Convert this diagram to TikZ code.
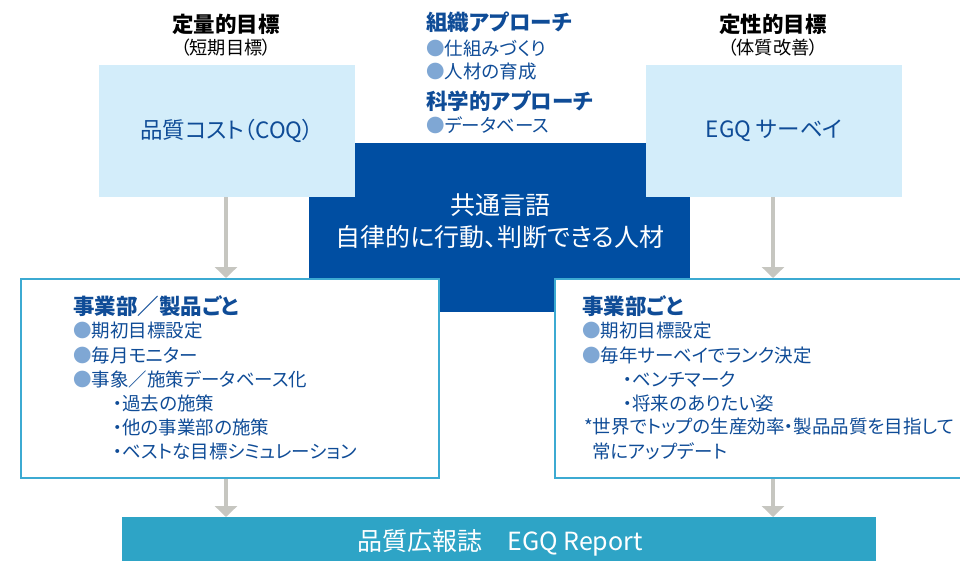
\documentclass[tikz,border=0pt]{standalone}
\usepackage{fontspec}
\setmainfont{Noto Sans CJK JP}[RawFeature=+palt]
\usetikzlibrary{arrows.meta}
\definecolor{txtblue}{HTML}{0F4C97}
\definecolor{darkblue}{HTML}{004EA2}
\definecolor{lightbox}{HTML}{D3EDFA}
\definecolor{bordercol}{HTML}{3CAAD2}
\definecolor{barcol}{HTML}{2EA4C6}
\definecolor{arrowgray}{HTML}{C6C6C0}
\definecolor{bulletcol}{HTML}{7FA7D4}
\newcommand{\bul}{{\color{bulletcol}●}}
\tikzset{
  lightrect/.style={fill=lightbox, draw=none, anchor=north west, inner sep=0pt, text=txtblue, font=\fontsize{22.5}{26}\selectfont},
  whiterect/.style={fill=white, draw=bordercol, line width=2pt, anchor=north west, inner sep=0pt},
  toptitle/.style={font=\fontsize{21.5}{25}\selectfont\bfseries, text=black, inner sep=0pt},
  topsub/.style={font=\fontsize{18.2}{21}\selectfont, text=black, inner sep=0pt},
  head/.style={font=\fontsize{21.5}{25}\selectfont\bfseries, text=txtblue, anchor=west, inner sep=0pt},
  item/.style={font=\fontsize{18.5}{21}\selectfont, text=txtblue, anchor=west, inner sep=0pt},
  white24/.style={font=\fontsize{25}{29}\selectfont, text=white, inner sep=0pt},
  flow/.style={draw=arrowgray, line width=4pt, -{Triangle[width=22pt,length=11pt]}}
}
\begin{document}
\begin{tikzpicture}[x=1pt,y=-1pt]
\useasboundingbox (0,0) rectangle (960,560);
\clip (0,0) rectangle (960,560);
% core dark box
\node[fill=darkblue, anchor=north west, minimum width=381pt, minimum height=169pt, inner sep=0pt] (core) at (309,143) {};
% light boxes
\node[lightrect, minimum width=256pt, minimum height=132pt] (coq) at (99,65) {品質コスト（COQ）};
\node[lightrect, minimum width=256pt, minimum height=132pt] (egq) at (646,65) {EGQ サーベイ};
% core text
\node[white24] (core1) at (500,205) {共通言語};
\node[white24] (core2) at (500,237) {自律的に行動、判断できる人材};
% top titles
\node[toptitle] (t1) at (226,24) {定量的目標};
\node[topsub] (t1s) at (226,48) {（短期目標）};
\node[toptitle] (t2) at (773,24) {定性的目標};
\node[topsub] (t2s) at (773,48) {（体質改善）};
% middle approach text
\node[head] (m1) at (426,22) {組織アプローチ};
\node[item] (m2) at (426,48) {\bul 仕組みづくり};
\node[item] (m3) at (426,72) {\bul 人材の育成};
\node[head] (m4) at (426,101) {科学的アプローチ};
\node[item] (m5) at (426,125) {\bul データベース};
% lower boxes
\node[whiterect, minimum width=418pt, minimum height=199pt] (lb) at (20,278) {};
\node[whiterect, minimum width=430pt, minimum height=199pt] (rb) at (554,278) {};
% left lower text
\node[head] (l1) at (73,306) {事業部／製品ごと};
\node[item] (l2) at (73,331) {\bul 期初目標設定};
\node[item] (l3) at (73,355) {\bul 毎月モニター};
\node[item] (l4) at (73,379) {\bul 事象／施策データベース化};
\node[item] (l5) at (113,403) {・過去の施策};
\node[item] (l6) at (113,427) {・他の事業部の施策};
\node[item] (l7) at (113,451) {・ベストな目標シミュレーション};
% right lower text
\node[head] (r1) at (582,306) {事業部ごと};
\node[item] (r2) at (582,331) {\bul 期初目標設定};
\node[item] (r3) at (582,355) {\bul 毎年サーベイでランク決定};
\node[item] (r4) at (623,379) {・ベンチマーク};
\node[item] (r5) at (623,403) {・将来のありたい姿};
\node[item] (r6) at (584,427) {*世界でトップの生産効率・製品品質を目指して};
\node[item] (r7) at (592,451) {常にアップデート};
% bottom bar
\node[fill=barcol, anchor=north west, minimum width=754pt, minimum height=60pt, inner sep=0pt] (bar) at (122,517) {};
\node[white24] (bartxt) at (500,543) {品質広報誌　EGQ Report};
% arrows
\coordinate (la) at (226,197);
\coordinate (ra) at (773,197);
\draw[flow] (la) -- (la |- lb.north);
\draw[flow] (ra) -- (ra |- rb.north);
\draw[flow] (la |- lb.south) -- (la |- bar.north);
\draw[flow] (ra |- rb.south) -- (ra |- bar.north);
\end{tikzpicture}
\end{document}
